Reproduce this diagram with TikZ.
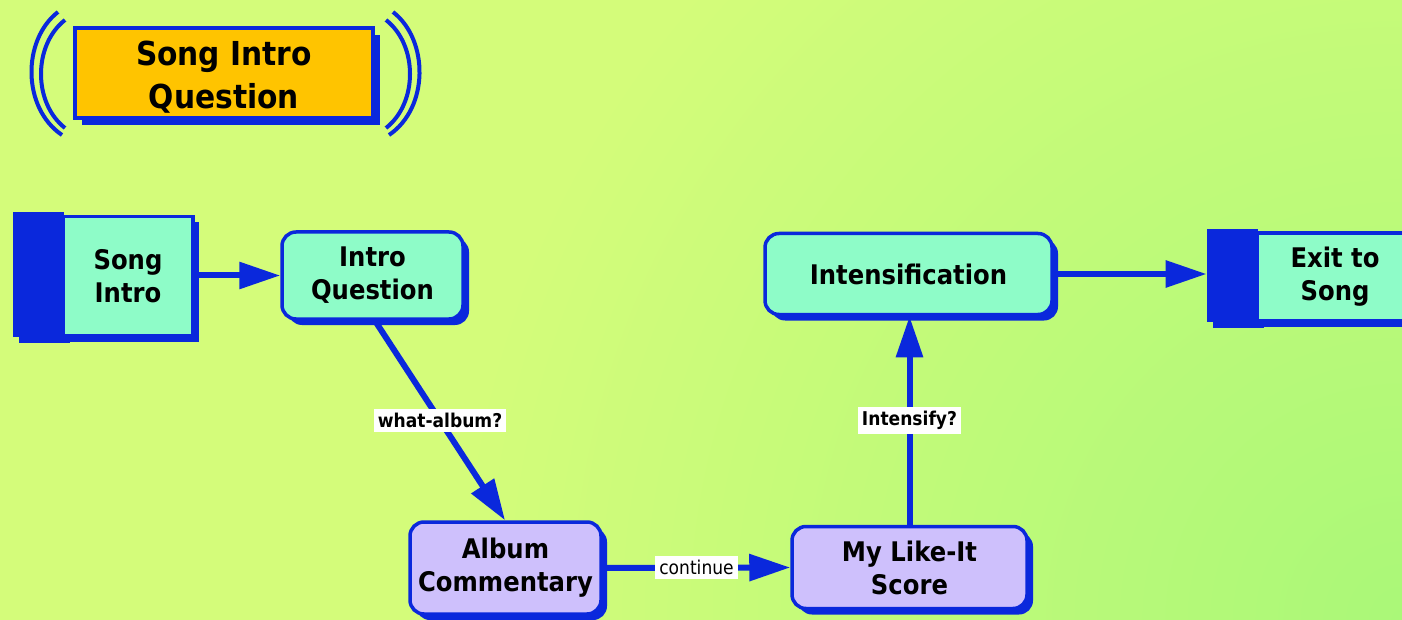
\documentclass[tikz,border=0pt]{standalone}
\usepackage{fontspec}
\setmainfont{DejaVu Sans}[FakeStretch=0.9]
\usetikzlibrary{arrows.meta,shadows,calc}
\definecolor{bgA}{RGB}{212,252,122}
\definecolor{bgB}{RGB}{170,248,120}
\definecolor{edgeblue}{RGB}{10,40,220}
\definecolor{mint}{RGB}{142,252,200}
\definecolor{lav}{RGB}{206,192,252}
\definecolor{gold}{RGB}{255,196,0}
\tikzset{
  base/.style={draw=edgeblue, line width=3.5pt, text=black, align=center,
    font=\bfseries\fontsize{27}{33}\selectfont, inner sep=0pt,
    drop shadow={shadow xshift=6pt, shadow yshift=-6pt, fill=edgeblue, opacity=1}},
  roundbox/.style={base, rounded corners=14pt, fill=mint},
  lavbox/.style={base, rounded corners=14pt, fill=lav},
  termbox/.style={base, fill=mint},
  termbar/.style={fill=edgeblue, inner sep=0pt, minimum width=51pt,
    drop shadow={shadow xshift=6pt, shadow yshift=-6pt, fill=edgeblue, opacity=1}},
  titlebox/.style={draw=edgeblue, line width=3.5pt, fill=gold, align=center, inner sep=0pt,
    font=\bfseries\fontsize{33}{43}\selectfont,
    drop shadow={shadow xshift=7pt, shadow yshift=-7pt, fill=edgeblue, opacity=1}},
  flow/.style={draw=edgeblue, line width=6pt, -{Triangle[length=41pt,width=26pt]}},
  tag/.style={fill=white, inner sep=4pt, text=black, font=\bfseries\fontsize{19}{22}\selectfont},
  tagplain/.style={fill=white, inner sep=4pt, text=black, font=\fontsize{19}{22}\selectfont},
  paren/.style={draw=edgeblue, line width=4pt}
}
\begin{document}
\begin{tikzpicture}[x=1pt, y=-1pt]
  % background: flat tint, greener toward the lower right corner
  \fill[bgA] (0,0) rectangle (1402,620);
  \begin{scope}
    \clip (0,0) rectangle (1402,620);
    \shade[inner color=bgB, outer color=bgA] (1402,620) circle (950);
  \end{scope}
  \useasboundingbox (0,0) rectangle (1402,620);

  % heading with double parentheses
  \node[titlebox, minimum width=298pt, minimum height=90pt, text depth=0pt] (title) at (224,73) {\raisebox{-3pt}{Song Intro}\\\raisebox{-3pt}{Question}};
  \draw[paren] (58,12) .. controls (22,40) and (22,108) .. (62,135);
  \draw[paren] (65,20) .. controls (33,45) and (33,103) .. (65,128);
  \draw[paren] (393,12) .. controls (429,40) and (429,108) .. (389,135);
  \draw[paren] (386,20) .. controls (418,45) and (418,103) .. (386,128);

  % start terminal
  \node[termbar, minimum height=125pt, anchor=north east] (songbar) at (64,212) {};
  \node[termbox, minimum width=130pt, minimum height=119pt] (songintro) at (128,276) {Song\\Intro};

  % exit terminal
  \node[termbar, minimum height=93pt, anchor=north east] (exitbar) at (1258,229) {};
  \node[termbox, minimum width=155pt, minimum height=88pt] (exit) at (1335,277) {Exit to\\Song};

  % process steps
  \node[roundbox, minimum width=181pt, minimum height=87pt] (introq) at (372.5,275.5) {Intro\\Question};
  \node[roundbox, minimum width=287pt, minimum height=81pt] (intens) at (908.5,274) {Intensification};
  \node[lavbox, minimum width=191pt, minimum height=92pt] (album) at (505.5,568) {Album\\Commentary};
  \node[lavbox, minimum width=235pt, minimum height=82pt] (likeit) at (909.5,567.5) {My Like-It\\Score};

  % connectors
  \draw[flow] (songintro.east |- introq.west) -- (introq.west);
  \draw[flow] ([xshift=2.5pt]introq.south) -- node[tag, pos=0.5] {what-album?} ([xshift=-0.5pt]album.north);
  \draw[flow] (album.east) -- node[tagplain] {continue} (likeit.west);
  \draw[flow] (likeit.north) -- node[tag] {Intensify?} (likeit.north |- intens.south);
  \draw[flow] (intens.east) -- (exitbar.west |- intens.east);
\end{tikzpicture}
\end{document}
